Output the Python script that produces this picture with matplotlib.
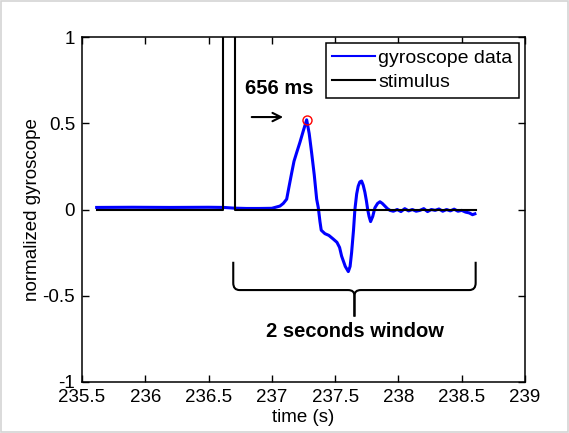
import matplotlib
matplotlib.use("Agg")
import matplotlib.pyplot as plt
from matplotlib.path import Path
from matplotlib.patches import PathPatch, Rectangle
import numpy as np

plt.rcParams['font.family'] = ['Liberation Sans', 'DejaVu Sans']

# ---- data ----
gyro_t = [235.616, 235.9, 236.2, 236.5, 236.62, 236.70, 236.8, 236.9, 237.0, 237.064,
          237.09, 237.117, 237.135, 237.156, 237.175, 237.196, 237.222, 237.25, 237.275, 237.295,
          237.314, 237.335, 237.354, 237.367, 237.38, 237.39, 237.419, 237.45, 237.483, 237.514,
          237.535, 237.551, 237.58, 237.604, 237.618, 237.630, 237.645, 237.656, 237.67, 237.682,
          237.695, 237.709, 237.722, 237.735, 237.747, 237.757, 237.768, 237.780, 237.797, 237.814,
          237.835, 237.854, 237.873, 237.893, 237.913, 237.933, 237.96, 237.99, 238.02, 238.05,
          238.08, 238.11, 238.14, 238.17, 238.20, 238.23, 238.26, 238.29, 238.32, 238.35,
          238.38, 238.41, 238.44, 238.47, 238.50, 238.53, 238.56, 238.585, 238.604]
gyro_v = [0.012, 0.013, 0.012, 0.013, 0.012, 0.008, 0.006, 0.006, 0.007, 0.02,
          0.035, 0.06, 0.13, 0.21, 0.28, 0.33, 0.39, 0.46, 0.52, 0.44,
          0.33, 0.2, 0.06, 0.01, -0.07, -0.12, -0.14, -0.15, -0.17, -0.19,
          -0.22, -0.27, -0.33, -0.36, -0.33, -0.25, -0.12, 0.0, 0.09, 0.135,
          0.16, 0.165, 0.14, 0.10, 0.05, 0.0, -0.04, -0.07, -0.04, 0.01,
          0.035, 0.045, 0.035, 0.02, 0.005, -0.005, -0.01, 0.0, -0.012, 0.005,
          -0.008, 0.0, -0.01, -0.005, 0.005, -0.012, 0.0, -0.005, 0.003, -0.01,
          0.0, -0.008, 0.002, -0.01, -0.005, -0.015, -0.02, -0.03, -0.025]

stim_t = [235.616, 236.614, 236.614, 236.708, 236.708, 238.61]
stim_v = [0, 0, 2, 2, 0, 0]

x_ticks = [235.5, 236, 236.5, 237, 237.5, 238, 238.5, 239]
x_ticklabels = ['235.5', '236', '236.5', '237', '237.5', '238', '238.5', '239']
y_ticks = [-1, -0.5, 0, 0.5, 1]
y_ticklabels = ['-1', '-0.5', '0', '0.5', '1']

delay_label = '656 ms'
window_label = '2 seconds window'
window_start, window_end = 236.695, 238.61

# ---- figure ----
fig = plt.figure(figsize=(5.69, 4.33), dpi=100)
fig.patch.set_facecolor('white')
fig.patches.append(Rectangle((0.002, 0.003), 0.996, 0.994, transform=fig.transFigure,
                             fill=False, edgecolor='#d4d4d4', linewidth=1.2))
ax = fig.add_axes([0.1441, 0.1178, 0.7786, 0.7967])

ax.plot(gyro_t, gyro_v, color='#0000ff', linewidth=2.2, label='gyroscope data')
ax.plot(stim_t, stim_v, color='black', linewidth=1.5, label='stimulus')

ipk = int(np.argmax(gyro_v))
ax.plot([gyro_t[ipk]], [gyro_v[ipk]], 'o', markerfacecolor='none', markeredgecolor='red',
        markersize=6.5, markeredgewidth=1.0)

ax.set_xlim(235.5, 239)
ax.set_ylim(-1, 1)
ax.set_xticks(x_ticks)
ax.set_xticklabels(x_ticklabels)
ax.set_yticks(y_ticks)
ax.set_yticklabels(y_ticklabels)
ax.tick_params(direction='in', top=True, right=True, length=5, width=1.0,
               labelsize=13.5, pad=5)
for s in ax.spines.values():
    s.set_linewidth(1.1)

ax.set_xlabel('time (s)', fontsize=13.5, labelpad=2)
ax.set_ylabel('normalized gyroscope', fontsize=13.5, labelpad=1)

leg = ax.legend(loc='upper right', fontsize=14, fancybox=False, edgecolor='black',
                framealpha=1, borderaxespad=0.3, handlelength=2.2, handletextpad=0.15,
                labelspacing=0.3, borderpad=0.35)
leg.get_frame().set_linewidth(1.1)
for h in leg.get_lines():
    h.set_linewidth(1.5)

# annotation: delay
ax.text(237.056, 0.704, delay_label, fontsize=14.5, fontweight='bold', ha='center', va='center')
ax.annotate('', xy=(237.111, 0.536), xytext=(236.819, 0.536),
            arrowprops=dict(arrowstyle='->', color='black', lw=1.5, mutation_scale=15))

# brace
xl, xr = window_start, window_end
xm = (xl + xr) / 2
ytop, ycurl, yh, ymid0, ytip = -0.303, -0.426, -0.467, -0.50, -0.621
dx = 0.05
verts = [
    (xl, ytop), (xl, ycurl),
    (xl, yh), (xl + dx, yh),
    (xm - dx, yh),
    (xm, yh), (xm, ymid0),
    (xm, ytip),
]
codes = [Path.MOVETO, Path.LINETO, Path.CURVE3, Path.CURVE3, Path.LINETO,
         Path.CURVE3, Path.CURVE3, Path.LINETO]
ax.add_patch(PathPatch(Path(verts, codes), fill=False, edgecolor='black', lw=1.5))
verts_r = [(2 * xm - x, y) for (x, y) in verts]
ax.add_patch(PathPatch(Path(verts_r, codes), fill=False, edgecolor='black', lw=1.5))

ax.text(xm, -0.71, window_label, fontsize=14.5, fontweight='bold', ha='center', va='center')

fig.savefig('out.png', dpi=100, facecolor='white')
